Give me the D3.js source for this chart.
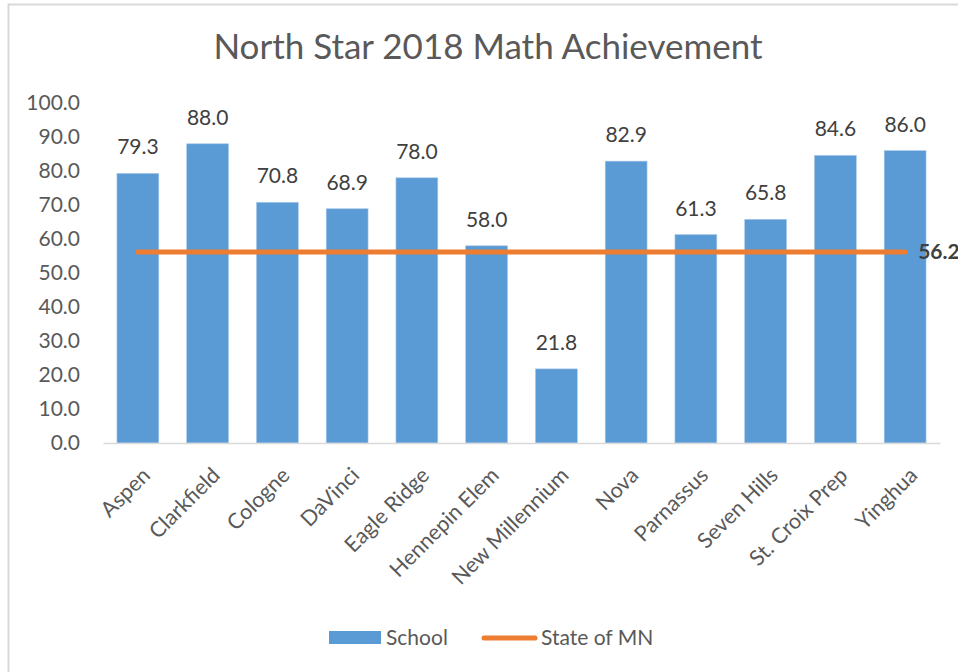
<!DOCTYPE html>
<html lang="en">
<head>
  <meta charset="UTF-8">
  <title>North Star 2018 Math Achievement</title>
  <style>
    body { margin: 0; background: #fff; overflow: hidden; }
    svg { display: block; font-family: Lato, 'Open Sans', sans-serif; }
    .tick-label, .legend-text { fill: #595959; font-size: 21px; }
    .cat-label { fill: #595959; font-size: 21.5px; }
    .val-label { fill: #404040; font-size: 21px; }
  </style>
</head>
<body>
  <div id="chart"></div>

  <script src="https://d3js.org/d3.v7.min.js"></script>
  <script>
    // data
    const schools = ['Aspen', 'Clarkfield', 'Cologne', 'DaVinci', 'Eagle Ridge', 'Hennepin Elem',
      'New Millennium', 'Nova', 'Parnassus', 'Seven Hills', 'St. Croix Prep', 'Yinghua'];
    const schoolScores = [79.3, 88.0, 70.8, 68.9, 78.0, 58.0, 21.8, 82.9, 61.3, 65.8, 84.6, 86.0];
    const stateScore = 56.2;
    const yTicks = [0, 10, 20, 30, 40, 50, 60, 70, 80, 90, 100];
    const seriesNames = ['School', 'State of MN'];

    const width = 958, height = 672;
    const blue = '#5b9bd5', orange = '#ed7d31';

    const svg = d3.select('#chart').append('svg')
      .attr('width', width)
      .attr('height', height);

    // chart frame
    svg.append('rect')
      .attr('x', 8.5).attr('y', 4.5)
      .attr('width', 980).attr('height', 700)
      .attr('fill', 'none')
      .attr('stroke', '#d9d9d9')
      .attr('stroke-width', 2);

    svg.append('text')
      .attr('x', 488).attr('y', 59)
      .attr('text-anchor', 'middle')
      .attr('fill', '#595959')
      .style('font-size', '35px')
      .text('North Star 2018 Math Achievement');

    const x = d3.scaleBand()
      .domain(schools)
      .range([103, 940])
      .paddingInner(0.4)
      .paddingOuter(0.2);

    const y = d3.scaleLinear()
      .domain([0, 100])
      .range([443, 103]);

    // y axis labels (no axis line)
    const yAxis = svg.append('g')
      .attr('transform', 'translate(80,0)')
      .call(d3.axisLeft(y).tickValues(yTicks).tickFormat(d3.format('.1f')).tickSize(0).tickPadding(0))
      .attr('font-family', null)
      .attr('font-size', null);
    yAxis.select('.domain').remove();
    yAxis.selectAll('text').attr('class', 'tick-label');

    // bars
    svg.append('g')
      .selectAll('rect')
      .data(schoolScores)
      .join('rect')
      .attr('x', (d, i) => x(schools[i]))
      .attr('y', d => y(d))
      .attr('width', x.bandwidth())
      .attr('height', d => y(0) - y(d))
      .attr('fill', blue)
      .attr('stroke', '#a9c8ea')
      .attr('stroke-width', 0.6);

    // value labels
    svg.append('g')
      .selectAll('text')
      .data(schoolScores)
      .join('text')
      .attr('class', 'val-label')
      .attr('x', (d, i) => x(schools[i]) + x.bandwidth() / 2)
      .attr('y', d => y(d) - 19)
      .attr('text-anchor', 'middle')
      .text(d => d.toFixed(1));

    // x axis
    const xAxis = svg.append('g')
      .attr('transform', `translate(0,${y(0)})`)
      .call(d3.axisBottom(x).tickSize(0).tickPadding(0))
      .attr('font-family', null)
      .attr('font-size', null);
    xAxis.select('.domain')
      .attr('stroke', '#d9d9d9')
      .attr('stroke-width', 1.5);
    xAxis.selectAll('text')
      .attr('class', 'cat-label')
      .attr('text-anchor', 'end')
      .attr('dy', '0.7em')
      .attr('transform', 'translate(3,23) rotate(-45)');

    // state line
    const first = schools[0], last = schools[schools.length - 1];
    const lineData = [first, last];
    svg.append('path')
      .datum(lineData)
      .attr('d', d3.line().x(d => x(d) + x.bandwidth() / 2).y(() => y(stateScore)))
      .attr('stroke', orange)
      .attr('stroke-width', 5)
      .attr('stroke-linecap', 'round')
      .attr('fill', 'none');

    svg.append('text')
      .attr('x', x(last) + x.bandwidth() / 2 + 13)
      .attr('y', y(stateScore))
      .attr('dy', '0.35em')
      .attr('fill', '#404040')
      .style('font-size', '21px')
      .style('font-weight', 'bold')
      .text(stateScore.toFixed(1));

    // legend
    const legend = svg.append('g');
    legend.append('rect')
      .attr('x', 329).attr('y', 631)
      .attr('width', 52).attr('height', 13)
      .attr('fill', blue);
    legend.append('text')
      .attr('class', 'legend-text')
      .attr('x', 386).attr('y', 638).attr('dy', '0.35em')
      .text(seriesNames[0]);
    legend.append('line')
      .attr('x1', 484).attr('x2', 535)
      .attr('y1', 638).attr('y2', 638)
      .attr('stroke', orange)
      .attr('stroke-width', 5)
      .attr('stroke-linecap', 'round');
    legend.append('text')
      .attr('class', 'legend-text')
      .attr('x', 541).attr('y', 638).attr('dy', '0.35em')
      .text(seriesNames[1]);
  </script>
</body>
</html>
